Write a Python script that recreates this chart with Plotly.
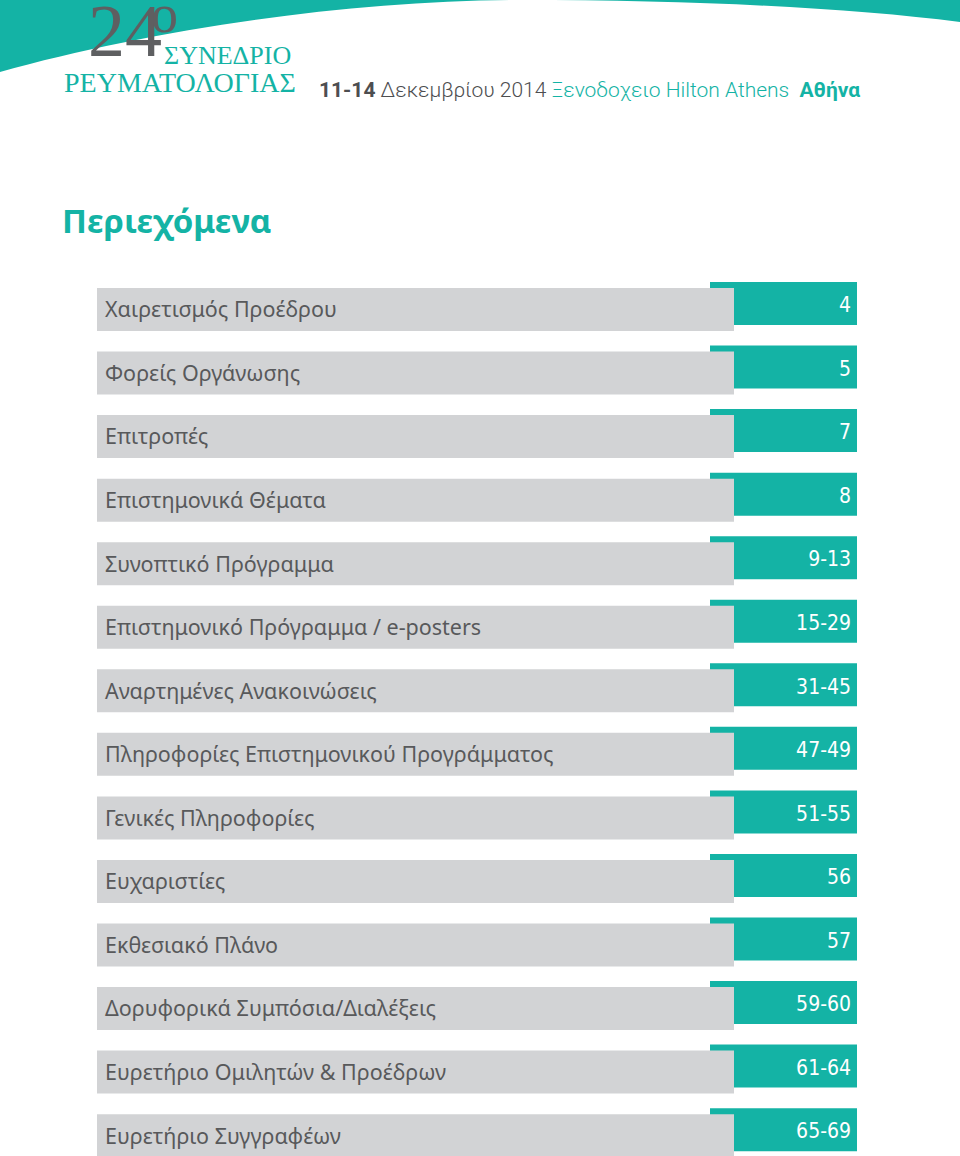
import plotly.graph_objects as go

# Table of contents entries
sections = [
    'Χαιρετισμός Προέδρου',
    'Φορείς Οργάνωσης',
    'Επιτροπές',
    'Επιστημονικά Θέματα',
    'Συνοπτικό Πρόγραμμα',
    'Επιστημονικό Πρόγραμμα / e-posters',
    'Αναρτημένες Ανακοινώσεις',
    'Πληροφορίες Επιστημονικού Προγράμματος',
    'Γενικές Πληροφορίες',
    'Ευχαριστίες',
    'Εκθεσιακό Πλάνο',
    'Δορυφορικά Συμπόσια/Διαλέξεις',
    'Ευρετήριο Ομιλητών & Προέδρων',
    'Ευρετήριο Συγγραφέων',
]
pages = ['4', '5', '7', '8', '9-13', '15-29', '31-45', '47-49',
         '51-55', '56', '57', '59-60', '61-64', '65-69']

TEAL = '#14b3a5'
GREY_BAR = '#d2d3d5'
TEXT = '#58595b'

W, H = 960, 1156
top0, pitch = 288, 63.55
tops = [top0 + i * pitch for i in range(len(sections))]

fig = go.Figure()

# teal page-number tabs (behind grey bars)
fig.add_trace(go.Bar(
    orientation='h', y=[t + 15.5 for t in tops], x=[147] * len(tops), base=710,
    width=43, marker=dict(color=TEAL, line_width=0), hoverinfo='skip'))
# grey section bars
fig.add_trace(go.Bar(
    orientation='h', y=[t + 21.5 for t in tops], x=[637] * len(tops), base=97,
    width=43, marker=dict(color=GREY_BAR, line_width=0), hoverinfo='skip'))

fig.add_trace(go.Scatter(
    x=[105] * len(sections), y=[t + 24 for t in tops], text=sections,
    mode='text', textposition='middle right',
    textfont=dict(family='Noto Sans', size=21.5, color=TEXT), hoverinfo='skip'))
fig.add_trace(go.Scatter(
    x=[851] * len(pages), y=[t + 19 for t in tops], text=pages,
    mode='text', textposition='middle left',
    textfont=dict(family='DejaVu Sans Condensed', size=21, color='white'), hoverinfo='skip'))

# header swoosh
fig.add_shape(type='path', xref='x', yref='y', layer='below',
              path='M 0 0 L 0 72 C 150 30, 350 0, 520 0 C 700 0, 850 8, 960 22 L 960 0 Z',
              fillcolor=TEAL, line_width=0)

# logo
fig.add_annotation(x=86, y=31, text='24', showarrow=False, xanchor='left', yanchor='middle',
                   font=dict(family='Liberation Serif', size=74, color='#5e5f61'))
fig.add_annotation(x=149, y=14, text='o', showarrow=False, xanchor='left', yanchor='middle',
                   font=dict(family='Liberation Serif', size=54, color='#5e5f61'))
fig.add_annotation(x=162, y=55, text='ΣΥΝΕΔΡΙΟ', showarrow=False, xanchor='left', yanchor='middle',
                   font=dict(family='Liberation Serif', size=26, color=TEAL))
fig.add_annotation(x=62, y=82, text='ΡΕΥΜΑΤΟΛΟΓΙΑΣ', showarrow=False, xanchor='left', yanchor='middle',
                   font=dict(family='Liberation Serif', size=28, color=TEAL))

fig.add_annotation(
    x=317, y=90, showarrow=False, xanchor='left', yanchor='middle',
    text=("<b>11-14</b> Δεκεμβρίου 2014 "
          f"<span style='color:{TEAL}'>Ξενοδοχειο Hilton Athens  <b>Αθήνα</b></span>"),
    font=dict(family='Roboto', size=21, color='#4d4e50', weight=300))

fig.add_annotation(x=60, y=220, text='<b>Περιεχόμενα</b>', showarrow=False,
                   xanchor='left', yanchor='middle',
                   font=dict(family='Noto Sans', size=33, color=TEAL))

fig.update_layout(
    width=W, height=H, margin=dict(l=0, r=0, t=0, b=0),
    paper_bgcolor='white', plot_bgcolor='white',
    barmode='overlay', showlegend=False,
    xaxis=dict(range=[0, W], visible=False, fixedrange=True),
    yaxis=dict(range=[H, 0], visible=False, fixedrange=True),
)

# drop the browser's default body margin so the figure sits at the page corner
fig.write_html('out.html', config={'displayModeBar': False},
               post_script="document.body.style.margin='0';document.body.style.overflow='hidden';")
